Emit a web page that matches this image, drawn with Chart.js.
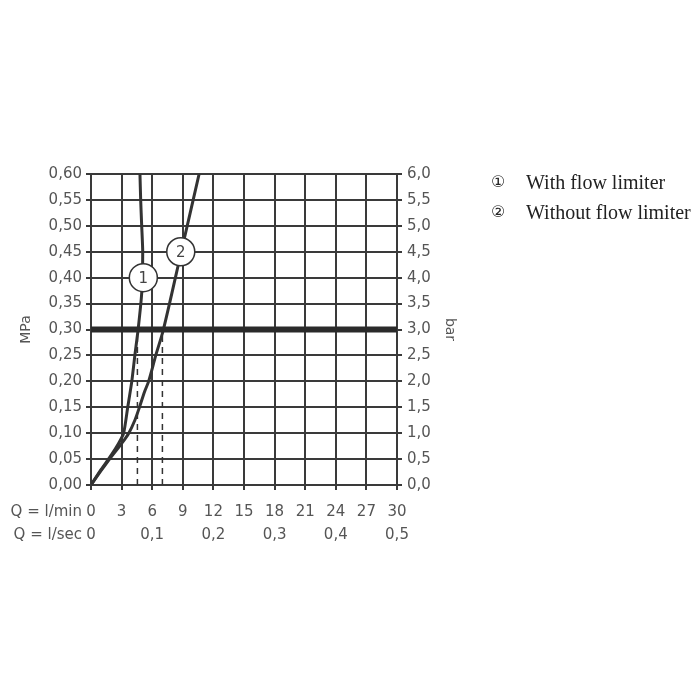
<!DOCTYPE html>
<html>
<head>
<meta charset="utf-8">
<script src="https://cdn.jsdelivr.net/npm/chart.js@4.4.0/dist/chart.umd.min.js"></script>
<style>
  html, body { margin: 0; padding: 0; background: #fff; }
  #wrap { position: relative; width: 700px; height: 700px; }
  #legend { position: absolute; left: 491px; top: 167px; color: #222; }
  .row { position: relative; height: 30px; line-height: 30px; white-space: nowrap; }
  .num { position: absolute; left: 0; font-family: 'DejaVu Sans', sans-serif; font-size: 16px; }
  .txt { position: absolute; left: 35px; font-family: 'Liberation Serif', serif; font-size: 20px; }
</style>
</head>
<body>
<div id="wrap">
  <canvas id="chart" width="700" height="700"></canvas>
  <div id="legend"></div>
</div>
<script>
// tick labels
const flowLabels = ['0', '3', '6', '9', '12', '15', '18', '21', '24', '27', '30'];
const lsecLabels = ['0', '0,1', '0,2', '0,3', '0,4', '0,5'];
const mpaLabels = ['0,00', '0,05', '0,10', '0,15', '0,20', '0,25', '0,30', '0,35', '0,40', '0,45', '0,50', '0,55', '0,60'];
const barLabels = ['0,0', '0,5', '1,0', '1,5', '2,0', '2,5', '3,0', '3,5', '4,0', '4,5', '5,0', '5,5', '6,0'];

// curve 1: with flow limiter (Q l/min, p MPa)
const limiterQ = [0, 1.0, 2.0, 2.7, 3.2, 3.6, 4.0, 4.3, 4.62, 4.97, 5.07, 4.97, 4.87, 4.8];
const limiterP = [0, 0.03, 0.058, 0.08, 0.10, 0.15, 0.20, 0.25, 0.30, 0.37, 0.45, 0.50, 0.55, 0.60];

// curve 2: without flow limiter
const freeQ = [0, 1.0, 2.0, 3.0, 3.7, 4.3, 4.75, 5.25, 5.65, 6.35, 7.1, 8.85, 10.6];
const freeP = [0, 0.028, 0.055, 0.08, 0.10, 0.125, 0.15, 0.18, 0.20, 0.25, 0.30, 0.45, 0.60];

const refPressure = 0.30;
const dashQ = [4.55, 7.0];

const markerQ = [5.13, 8.8];
const markerP = [0.40, 0.45];
const markerText = ['1', '2'];
const legendNums = ['\u2460', '\u2461'];
const legendText = ['With flow limiter', 'Without flow limiter'];

const toNum = s => parseFloat(s.replace(',', '.'));
const dark = '#333333';
const gridColor = '#3a3a3a';
const tickColor = '#555555';
const tickFont = { family: "'DejaVu Sans', sans-serif", size: 15 };

document.getElementById('legend').innerHTML = legendText.map((t, i) =>
  `<div class="row"><span class="num">${legendNums[i]}</span><span class="txt">${t}</span></div>`).join('');

function pairs(xs, ys) {
  return xs.map((x, i) => ({ x: x, y: ys[i] }));
}

function fixTicks(labels) {
  return scale => { scale.ticks = labels.map(l => ({ value: toNum(l) })); };
}

const captions = {
  id: 'captions',
  afterDatasetsDraw(chart) {
    const ctx = chart.ctx;
    const meta = chart.getDatasetMeta(0);
    ctx.save();
    ctx.fillStyle = '#444';
    ctx.font = "15px 'DejaVu Sans', sans-serif";
    ctx.textAlign = 'center';
    ctx.textBaseline = 'middle';
    meta.data.forEach((pt, i) => ctx.fillText(markerText[i], pt.x, pt.y + 1));
    ctx.fillStyle = tickColor;
    ctx.textAlign = 'right';
    const left = chart.chartArea.left - 9;
    ctx.fillText('Q = l/min', left, chart.scales.x.top + 5 + 13 + 9);
    ctx.fillText('Q = l/sec', left, chart.scales.x2.top + 5 + 9);
    ctx.restore();
  }
};

const datasets = [{
    label: 'markers',
    data: pairs(markerQ, markerP),
    showLine: false,
    pointRadius: 14,
    pointBackgroundColor: '#fff',
    pointBorderColor: dark,
    pointBorderWidth: 1.5,
  }, {
    label: 'reference',
    data: [{ x: 0, y: refPressure }, { x: 30, y: refPressure }],
    borderColor: '#2a2a2a',
    borderWidth: 6,
    pointRadius: 0,
  }, {
    label: 'With flow limiter',
    data: pairs(limiterQ, limiterP),
    borderColor: dark,
    borderWidth: 3,
    pointRadius: 0,
    tension: 0.2,
  }, {
    label: 'Without flow limiter',
    data: pairs(freeQ, freeP),
    borderColor: dark,
    borderWidth: 3,
    pointRadius: 0,
    tension: 0.3,
  },
  ...dashQ.map(q => ({
    label: 'dash',
    data: [{ x: q, y: 0 }, { x: q, y: refPressure }],
    borderColor: dark,
    borderWidth: 1.5,
    borderDash: [6, 5],
    pointRadius: 0,
  })),
];

new Chart(document.getElementById('chart'), {
  type: 'scatter',
  data: { datasets: datasets },
  plugins: [captions],
  options: {
    responsive: false,
    animation: false,
    showLine: true,
    layout: { padding: { left: 0, right: 238, top: 174, bottom: 139 } },
    plugins: { legend: { display: false }, tooltip: { enabled: false } },
    scales: {
      x: {
        type: 'linear', position: 'bottom', min: 0, max: 30,
        afterBuildTicks: fixTicks(flowLabels),
        afterFit: s => { s.height = 36; },
        grid: { color: gridColor, lineWidth: 2, tickLength: 5 },
        border: { color: gridColor, width: 2 },
        ticks: { color: tickColor, font: tickFont, padding: 13, maxRotation: 0, autoSkip: false,
                 callback: (v, i) => flowLabels[i] },
      },
      x2: {
        type: 'linear', position: 'bottom', min: 0, max: 0.5,
        afterBuildTicks: fixTicks(lsecLabels),
        afterFit: s => { s.height = 40; },
        grid: { display: false, drawTicks: false },
        border: { display: false },
        ticks: { color: tickColor, font: tickFont, padding: 5, maxRotation: 0, autoSkip: false,
                 callback: (v, i) => lsecLabels[i] },
      },
      y: {
        type: 'linear', position: 'left', min: 0, max: 0.6,
        afterBuildTicks: fixTicks(mpaLabels),
        afterFit: s => { s.width = 91; },
        grid: { color: gridColor, lineWidth: 2, tickLength: 5 },
        border: { color: gridColor, width: 2 },
        ticks: { color: tickColor, font: tickFont, padding: 4, autoSkip: false,
                 callback: (v, i) => mpaLabels[i] },
        title: { display: true, text: 'MPa', color: tickColor,
                 font: { family: "'DejaVu Sans', sans-serif", size: 14 }, padding: { top: 18, bottom: 0 } },
      },
      y2: {
        type: 'linear', position: 'right', min: 0, max: 6,
        afterBuildTicks: fixTicks(barLabels),
        afterFit: s => { s.width = 65; },
        grid: { drawOnChartArea: false, color: gridColor, lineWidth: 2, tickLength: 5 },
        border: { color: gridColor, width: 2 },
        ticks: { color: tickColor, font: tickFont, padding: 5, autoSkip: false,
                 callback: (v, i) => barLabels[i] },
        title: { display: true, text: 'bar', color: tickColor,
                 font: { family: "'DejaVu Sans', sans-serif", size: 14 }, padding: { top: 4, bottom: 0 } },
      },
    },
  },
});
</script>
</body>
</html>
